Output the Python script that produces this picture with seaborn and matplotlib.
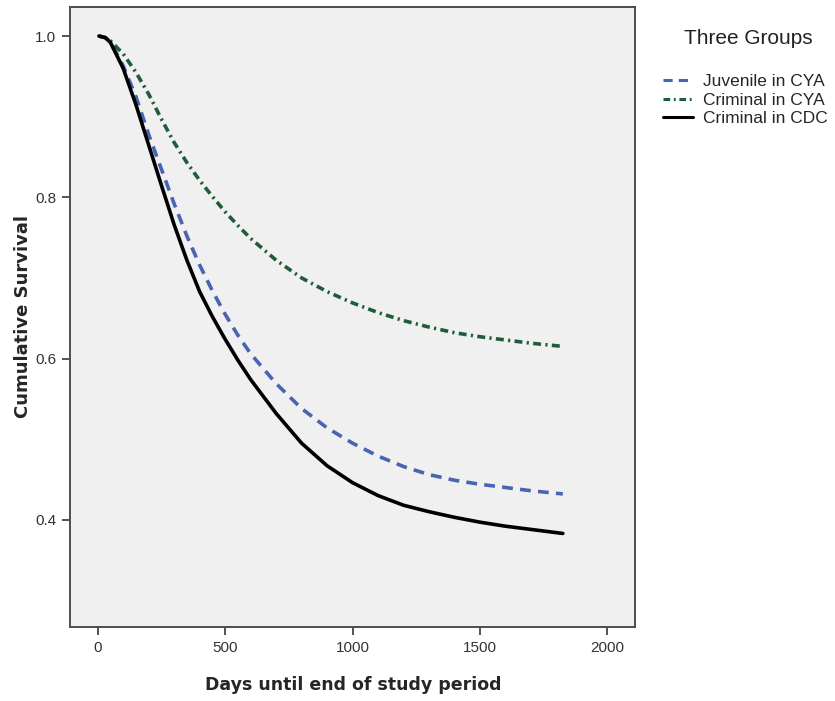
import numpy as np
import pandas as pd
import seaborn as sns
import matplotlib.pyplot as plt

# ----------------------------
# Data
# ----------------------------
days = [5, 30, 50, 100, 150, 200, 250, 300, 350, 400, 450, 500, 550, 600,
        700, 800, 900, 1000, 1100, 1200, 1300, 1400, 1500, 1600, 1700, 1825]

juvenile_cya = [1.0, 0.998, 0.993, 0.963, 0.925, 0.878, 0.835, 0.792, 0.752, 0.716,
                0.684, 0.655, 0.629, 0.606, 0.569, 0.538, 0.514, 0.495, 0.479, 0.466,
                0.456, 0.449, 0.444, 0.440, 0.436, 0.432]

criminal_cya = [1.0, 0.998, 0.994, 0.978, 0.955, 0.928, 0.897, 0.868, 0.843, 0.821,
                0.801, 0.782, 0.765, 0.749, 0.722, 0.700, 0.683, 0.669, 0.657, 0.647,
                0.639, 0.632, 0.627, 0.623, 0.619, 0.615]

criminal_cdc = [1.0, 0.998, 0.992, 0.960, 0.915, 0.865, 0.815, 0.766, 0.722, 0.683,
                0.652, 0.624, 0.598, 0.574, 0.532, 0.495, 0.467, 0.446, 0.430, 0.418,
                0.410, 0.403, 0.397, 0.392, 0.388, 0.383]

groups = ["Juvenile in CYA", "Criminal in CYA", "Criminal in CDC"]
colors = {"Juvenile in CYA": "#4a64b4", "Criminal in CYA": "#1d5e3a", "Criminal in CDC": "#000000"}
dashes = {"Juvenile in CYA": (3, 2), "Criminal in CYA": (2.2, 1.2, 0.6, 1.2), "Criminal in CDC": ""}

x_ticks = [0, 500, 1000, 1500, 2000]
y_ticks = [0.4, 0.6, 0.8, 1.0]

# long table: one row per point per group
df = pd.concat([
    pd.DataFrame({"days": days, "survival": vals, "group": g})
    for g, vals in zip(groups, [juvenile_cya, criminal_cya, criminal_cdc])
], ignore_index=True)

# ----------------------------
# Plot
# ----------------------------
sns.set_style("ticks")
plt.rcParams["font.family"] = ["Liberation Sans", "DejaVu Sans"]

fig = plt.figure(figsize=(8.35, 7.01), dpi=100)
ax = fig.add_axes([0.084, 0.1056, 0.677, 0.8844])
ax.set_facecolor("#f0f0f0")

sns.lineplot(data=df, x="days", y="survival", hue="group", style="group",
             hue_order=groups, style_order=groups, palette=colors, dashes=dashes,
             linewidth=2.6, ax=ax, legend=False, sort=False)

ax.set_xlim(-108, 2110)
ax.set_ylim(0.267, 1.036)
ax.set_xticks(x_ticks)
ax.set_yticks(y_ticks)
ax.set_xticklabels([str(t) for t in x_ticks], fontsize=11, color="#333333")
ax.set_yticklabels([f"{t:.1f}" for t in y_ticks], fontsize=11, color="#333333")
ax.tick_params(direction="out", length=6, width=1.3, color="#444444", pad=4)

for side in ["top", "right", "bottom", "left"]:
    ax.spines[side].set_visible(True)
    ax.spines[side].set_color("#4d4d4d")
    ax.spines[side].set_linewidth(1.4)

ax.set_xlabel("Days until end of study period", fontsize=12.5, fontweight="bold",
              family="DejaVu Sans", labelpad=15)
ax.set_ylabel("Cumulative Survival", fontsize=13, fontweight="bold",
              family="DejaVu Sans", labelpad=2.5)

# legend outside, right of the plot area (title drawn separately)
fig.text(748 / 835, 1 - 39 / 701, "Three Groups", fontsize=15, color="#222222",
         ha="center", va="center")
handles = [plt.Line2D([], [], color=colors[g], linewidth=2.2,
                      dashes=dashes[g] if dashes[g] else (None, None)) for g in groups]
leg = fig.legend(handles, groups, loc="upper left", bbox_to_anchor=(663 / 835, 1 - 74 / 701),
                 frameon=False, fontsize=12.5, borderpad=0, borderaxespad=0,
                 handlelength=1.7, handletextpad=0.6, labelspacing=0.2)

fig.savefig("out.png", dpi=100)
